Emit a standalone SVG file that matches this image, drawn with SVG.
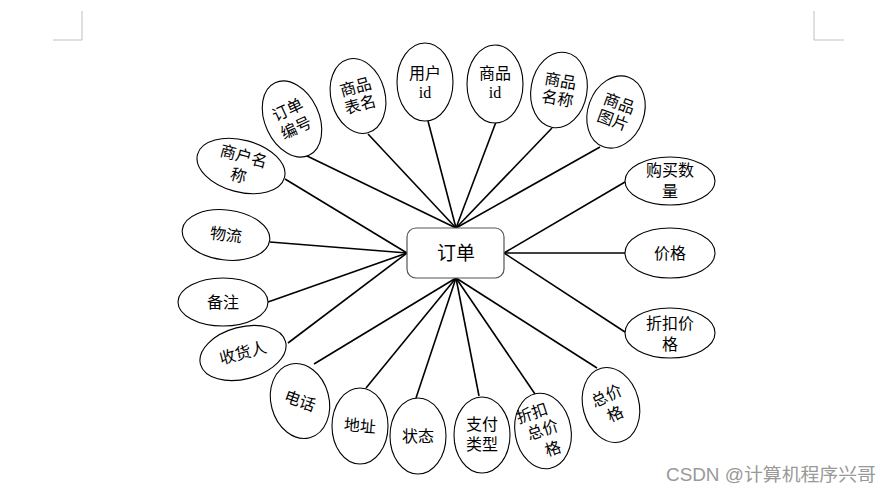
<svg xmlns="http://www.w3.org/2000/svg" width="892" height="496" viewBox="0 0 892 496">
<style>
.e{fill:#fff;stroke:#000;stroke-width:1.1}
.t{font-family:"Liberation Serif","Noto Sans CJK SC",serif;font-size:16px;fill:#000;text-anchor:middle;dominant-baseline:central}
.c line{stroke:#000;stroke-width:1.6}
.m{stroke:#c0c0c0;stroke-width:1;fill:none}
</style>
<rect width="892" height="496" fill="#fff"/>
<path class="m" d="M82 11V40H53M814 11V40H844"/>
<g class="c" id="connectors">
<line x1="305" y1="155" x2="456" y2="228"/>
<line x1="368" y1="134" x2="456" y2="228"/>
<line x1="428" y1="121" x2="456" y2="228"/>
<line x1="496" y1="122" x2="456" y2="228"/>
<line x1="552" y1="128" x2="456" y2="228"/>
<line x1="600" y1="147" x2="456" y2="228"/>
<line x1="285" y1="179" x2="407" y2="253"/>
<line x1="270" y1="242" x2="407" y2="253"/>
<line x1="268" y1="302" x2="407" y2="253"/>
<line x1="288" y1="343" x2="407" y2="253"/>
<line x1="314" y1="364" x2="456" y2="278"/>
<line x1="366" y1="388" x2="456" y2="278"/>
<line x1="416" y1="398" x2="456" y2="278"/>
<line x1="479" y1="396" x2="456" y2="278"/>
<line x1="535" y1="394" x2="456" y2="278"/>
<line x1="597" y1="368" x2="456" y2="278"/>
<line x1="625" y1="182" x2="504" y2="253"/>
<line x1="625" y1="253" x2="504" y2="253"/>
<line x1="625" y1="332" x2="504" y2="253"/>
</g>
<g id="center">
<rect x="407" y="228" width="97" height="50" rx="9" fill="#fff" stroke="#555" stroke-width="1.2"/>
<text class="t" x="456" y="253" style="font-size:19px">订单</text>
</g>
<g id="n1" transform="translate(292,119) rotate(-25)"><ellipse class="e" rx="27" ry="40"/><text class="t" y="-10">订单</text><text class="t" y="10">编号</text></g>
<g id="n2" transform="translate(358,96) rotate(-15)"><ellipse class="e" rx="27" ry="38"/><text class="t" y="-9">商品</text><text class="t" y="9">表名</text></g>
<g id="n3" transform="translate(425,82)"><ellipse class="e" rx="28" ry="39"/><text class="t" y="-9">用户</text><text class="t" y="10">id</text></g>
<g id="n4" transform="translate(495,84)"><ellipse class="e" rx="28" ry="39"/><text class="t" y="-11">商品</text><text class="t" y="8">id</text></g>
<g id="n5" transform="translate(559,90) rotate(10)"><ellipse class="e" rx="28" ry="38"/><text class="t" y="-9">商品</text><text class="t" y="9">名称</text></g>
<g id="n6" transform="translate(616,112) rotate(20)"><ellipse class="e" rx="28" ry="37"/><text class="t" y="-9">商品</text><text class="t" y="9">图片</text></g>
<g id="n7" transform="translate(241,166) rotate(15)"><ellipse class="e" rx="45" ry="26"/><text class="t" y="-10">商户名</text><text class="t" y="10">称</text></g>
<g id="n8" transform="translate(226,235) rotate(7)"><ellipse class="e" rx="44" ry="25"/><text class="t">物流</text></g>
<g id="n9" transform="translate(223,302)"><ellipse class="e" rx="45" ry="24"/><text class="t">备注</text></g>
<g id="n10" transform="translate(243,353) rotate(-15)"><ellipse class="e" rx="44" ry="26"/><text class="t">收货人</text></g>
<g id="n11" transform="translate(300,401) rotate(-15)"><ellipse class="e" rx="29" ry="38"/><text class="t" transform="rotate(35)">电话</text></g>
<g id="n12" transform="translate(360,426)"><ellipse class="e" rx="28" ry="38"/><text class="t" transform="rotate(5)">地址</text></g>
<g id="n13" transform="translate(418,436)"><ellipse class="e" rx="28" ry="38"/><text class="t">状态</text></g>
<g id="n14" transform="translate(482,435)"><ellipse class="e" rx="28" ry="38"/><text class="t" y="-11">支付</text><text class="t" y="9">类型</text></g>
<g id="n15" transform="translate(543,431) rotate(-10)"><ellipse class="e" rx="28" ry="38"/><g transform="rotate(-8)"><text class="t" x="-5" y="-20">折扣</text><text class="t" x="0" y="-1">总价</text><text class="t" x="4" y="20">格</text></g></g>
<g id="n16" transform="translate(611,405) rotate(-15)"><ellipse class="e" rx="28" ry="38"/><g transform="rotate(-10)"><text class="t" y="-10">总价</text><text class="t" y="10">格</text></g></g>
<g id="n17" transform="translate(670,181)"><ellipse class="e" rx="45" ry="24"/><text class="t" y="-11">购买数</text><text class="t" y="10">量</text></g>
<g id="n18" transform="translate(670,253)"><ellipse class="e" rx="45" ry="25"/><text class="t">价格</text></g>
<g id="n19" transform="translate(670,333)"><ellipse class="e" rx="45" ry="25"/><text class="t" y="-10">折扣价</text><text class="t" y="11">格</text></g>
<text x="666" y="475" textLength="210" lengthAdjust="spacingAndGlyphs" style="font-family:'Liberation Sans','Noto Sans CJK SC',sans-serif;font-size:18px;fill:#999;dominant-baseline:central">CSDN @计算机程序兴哥</text>
</svg>
